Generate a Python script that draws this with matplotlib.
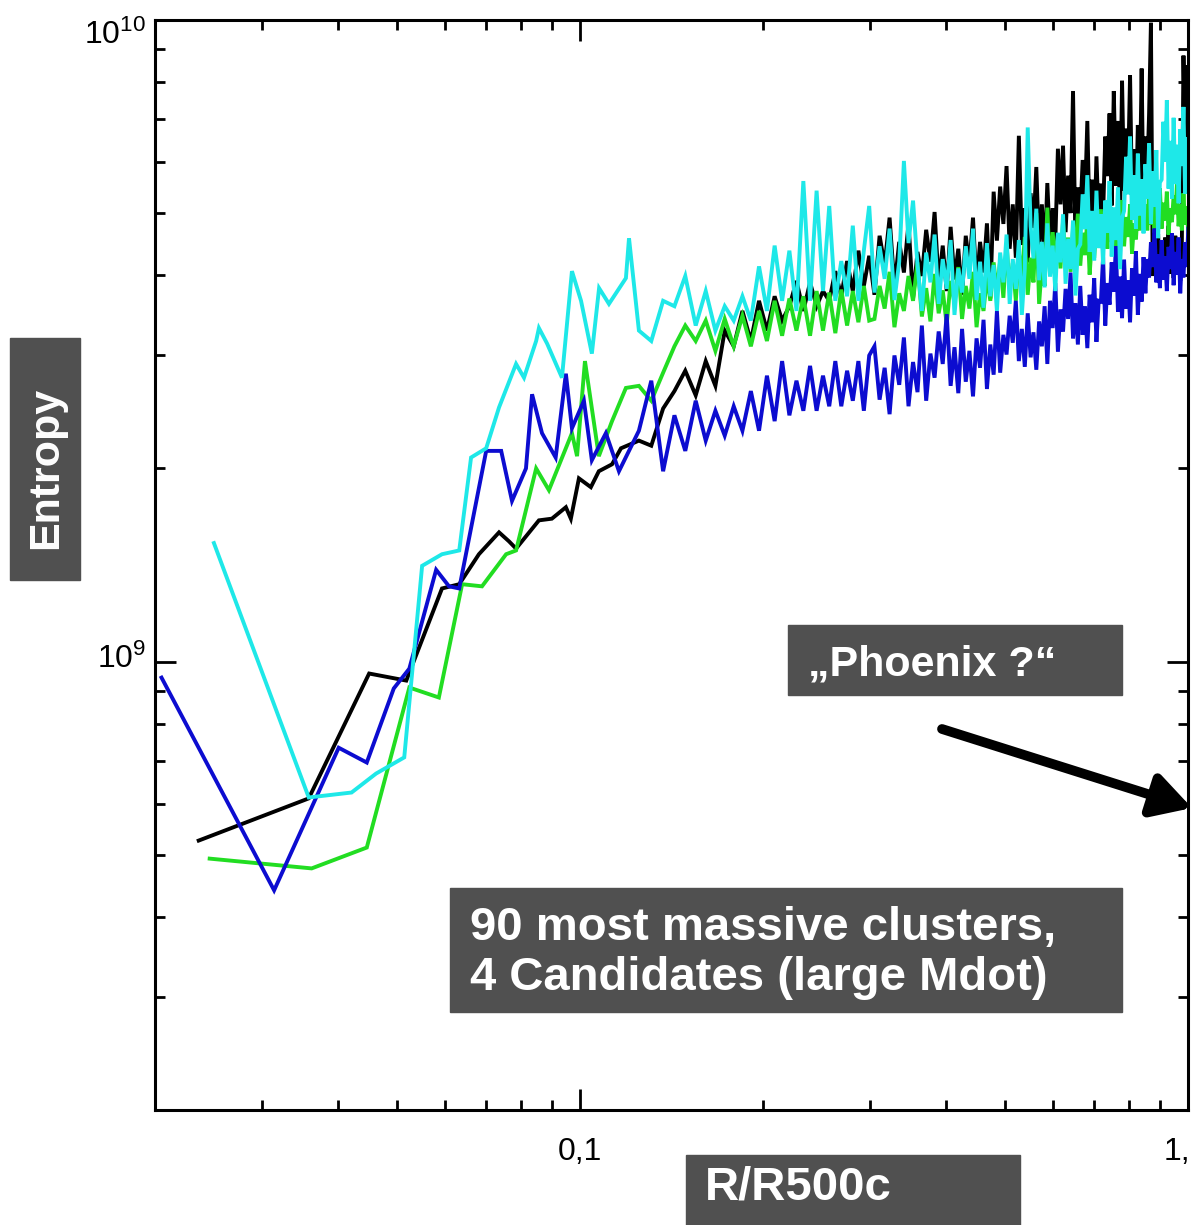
import numpy as np
import matplotlib.pyplot as plt
from matplotlib.patches import Rectangle, FancyArrowPatch, ArrowStyle
from matplotlib.ticker import LogLocator, NullFormatter

plt.rcParams['font.family'] = ['Liberation Sans', 'DejaVu Sans']
plt.rcParams['mathtext.fontset'] = 'custom'
plt.rcParams['mathtext.rm'] = 'Liberation Sans'

#%% data: entropy profiles (units of 1e9) vs R/R500c
# inner part: sparse points
black_r_in = [0.0236, 0.0358, 0.0450, 0.0518, 0.0593, 0.0633, 0.0682, 0.0736, 0.0764, 0.0785,
              0.0856, 0.0899, 0.0948, 0.0966, 0.0996, 0.1042, 0.1074, 0.1129, 0.1168]
black_s_in = [0.526, 0.612, 0.958, 0.934, 1.30, 1.32, 1.47, 1.59, 1.54, 1.50,
              1.66, 1.67, 1.74, 1.67, 1.93, 1.87, 1.98, 2.03, 2.15]

blue_r_in = [0.0205, 0.0314, 0.0401, 0.0446, 0.0494, 0.0524, 0.0580, 0.0609, 0.0633, 0.0701, 0.0742,
             0.0773, 0.0815, 0.0834, 0.0866, 0.0912, 0.0948, 0.0970, 0.1015, 0.1046, 0.1103, 0.1159]
blue_s_in = [0.944, 0.440, 0.734, 0.696, 0.908, 0.975, 1.39, 1.31, 1.30, 2.13, 2.13,
             1.78, 2.00, 2.61, 2.27, 2.08, 2.81, 2.31, 2.55, 2.06, 2.27, 1.98]

green_r_in = [0.0246, 0.0362, 0.0446, 0.0524, 0.0586, 0.0640, 0.0690, 0.0756, 0.0785,
              0.0847, 0.0889, 0.0970, 0.0989, 0.1019, 0.1074, 0.1129, 0.1190]
green_s_in = [0.493, 0.476, 0.513, 0.911, 0.879, 1.32, 1.31, 1.47, 1.49,
              2.00, 1.85, 2.27, 2.09, 2.94, 2.09, 2.37, 2.67]

cyan_r_in = [0.0250, 0.0358, 0.0421, 0.0462, 0.0514, 0.0550, 0.0593, 0.0633, 0.0662, 0.0701, 0.0736, 0.0785,
             0.0809, 0.0847, 0.0856, 0.0883, 0.0934, 0.0970, 0.1004, 0.1046, 0.1075, 0.1116, 0.1190, 0.1204]
cyan_s_in = [1.53, 0.614, 0.625, 0.669, 0.709, 1.41, 1.47, 1.49, 2.08, 2.15, 2.49, 2.91,
             2.77, 3.16, 3.31, 3.13, 2.77, 4.06, 3.65, 3.02, 3.82, 3.61, 3.96, 4.57]

# outer part: bins from R=0.125 in steps of 0.006
tail_r0 = 0.125
tail_dr = 0.006

black_tail = [2.21, 2.17, 2.48, 2.64, 2.84, 2.60, 2.94, 2.69, 3.28, 3.10,
              3.52, 3.16, 3.65, 3.28, 3.71, 3.40, 3.58, 3.92, 3.52, 3.90,
              3.58, 3.78, 3.65, 4.06, 3.71, 4.21, 3.78, 4.37, 3.85, 4.29,
              3.73, 4.61, 4.15, 4.92, 3.84, 4.51, 4.04, 4.82, 3.68, 4.35,
              3.99, 4.71, 4.20, 5.02, 3.89, 4.45, 3.78, 4.76, 3.94, 4.40,
              3.73, 4.61, 4.15, 4.92, 3.84, 4.51, 4.04, 4.82, 3.68, 5.40,
              4.53, 5.50, 4.81, 5.92, 4.40, 5.16, 4.26, 6.60, 4.46, 5.09,
              4.19, 5.37, 4.74, 5.90, 4.40, 5.16, 4.26, 5.57, 4.46, 5.09,
              4.51, 6.30, 5.16, 6.37, 4.67, 5.72, 5.00, 7.75, 4.43, 5.48,
              4.93, 6.05, 5.24, 6.96, 4.75, 5.64, 4.59, 6.13, 4.83, 5.56,
              4.94, 6.58, 5.71, 7.15, 5.14, 7.75, 5.52, 6.96, 4.85, 8.04,
              5.42, 6.77, 5.81, 8.20, 5.23, 6.29, 5.04, 6.86, 5.33, 8.40,
              4.94, 6.58, 5.71, 7.15, 9.90, 3.99, 4.44, 4.13, 4.64, 3.89,
              4.33, 4.09, 4.58, 4.23, 4.78, 4.02, 4.40, 3.96, 4.61, 4.06,
              4.37, 3.92, 4.51, 8.80, 6.50, 8.50, 7.00]

blue_tail = [2.29, 2.74, 1.98, 2.42, 2.13, 2.55, 2.21, 2.46, 2.25, 2.50,
             2.29, 2.64, 2.29, 2.79, 2.37, 2.94, 2.42, 2.74, 2.46, 2.89,
             2.46, 2.79, 2.50, 2.94, 2.50, 2.84, 2.55, 2.94, 2.46, 3.00,
             3.10, 2.56, 2.87, 2.43, 3.00, 2.70, 3.20, 2.50, 2.93, 2.63,
             3.34, 2.55, 3.02, 2.77, 3.27, 2.91, 3.48, 2.69, 3.09, 2.62,
             3.30, 2.73, 3.05, 2.59, 3.19, 2.87, 3.41, 2.66, 3.12, 2.80,
             3.52, 2.82, 3.23, 3.01, 3.46, 3.14, 3.65, 2.94, 3.30, 2.88,
             3.49, 2.98, 3.26, 2.85, 3.39, 3.10, 3.58, 2.91, 3.65, 3.31,
             3.89, 3.04, 3.54, 3.27, 3.81, 3.42, 4.04, 3.19, 3.62, 3.12,
             3.85, 3.23, 3.58, 3.08, 3.73, 3.38, 3.96, 3.15, 3.65, 3.64,
             4.27, 3.34, 3.89, 3.60, 4.19, 3.77, 4.44, 3.51, 3.98, 3.43,
             4.23, 3.55, 3.93, 3.38, 4.10, 3.72, 4.36, 3.47, 4.02, 3.64,
             4.27, 3.75, 4.24, 3.97, 4.50, 4.12, 4.73, 3.90, 4.31, 3.82,
             4.54, 3.94, 4.28, 3.78, 4.43, 4.09, 4.65, 3.86, 4.35, 4.01,
             4.58, 3.75, 4.24, 3.97, 4.50, 4.12, 4.73]

green_tail = [2.69, 2.55, 2.82, 3.10, 3.34, 3.16, 3.40, 3.05, 3.42, 3.10,
              3.46, 3.10, 3.52, 3.16, 3.65, 3.22, 3.68, 3.28, 3.71, 3.22,
              3.78, 3.28, 3.76, 3.25, 3.80, 3.34, 3.78, 3.38, 3.85, 3.40,
              3.42, 3.85, 3.55, 4.05, 3.32, 3.75, 3.52, 3.99, 3.65, 4.19,
              3.45, 3.82, 3.39, 4.02, 3.49, 3.79, 3.35, 3.92, 3.62, 4.12,
              3.42, 3.85, 3.55, 4.05, 3.32, 3.75, 3.52, 3.99, 3.65, 4.19,
              3.77, 4.22, 3.69, 4.47, 3.81, 4.18, 3.65, 4.35, 3.98, 4.59,
              3.73, 4.26, 3.90, 5.00, 3.61, 4.14, 3.85, 5.10, 4.02, 4.67,
              4.18, 4.62, 4.10, 4.86, 4.22, 4.58, 4.05, 4.74, 4.38, 4.99,
              4.14, 4.66, 4.30, 4.91, 4.01, 4.54, 4.26, 4.82, 4.42, 5.07,
              4.47, 4.89, 4.40, 5.12, 4.51, 4.86, 4.36, 5.01, 4.66, 5.24,
              4.44, 4.93, 4.59, 5.16, 4.32, 4.82, 4.55, 5.09, 4.70, 5.32,
              4.77, 5.16, 4.70, 5.37, 4.80, 5.12, 4.66, 5.26, 4.94, 5.47,
              4.73, 5.19, 4.87, 5.40, 4.63, 5.09, 4.84, 5.33, 4.98, 5.54,
              4.77, 5.16, 4.70, 5.37, 4.80, 5.12, 4.66]

cyan_tail = [3.28, 3.16, 3.65, 3.58, 3.99, 3.34, 3.78, 3.28, 3.58, 3.40,
             3.71, 3.40, 4.13, 3.52, 4.45, 3.65, 4.37, 3.52, 5.61, 3.65,
             5.42, 3.78, 5.13, 3.65, 4.21, 3.71, 4.78, 3.65, 4.37, 5.13,
             3.76, 4.44, 3.95, 4.73, 3.66, 4.20, 6.03, 4.49, 5.23, 4.15,
             3.52, 4.34, 3.90, 4.63, 3.61, 4.24, 3.81, 4.54, 3.47, 4.10,
             3.76, 4.44, 3.95, 4.73, 3.66, 4.20, 3.56, 4.49, 3.71, 4.15,
             3.52, 4.34, 3.90, 4.63, 3.61, 4.24, 3.81, 4.54, 3.47, 4.10,
             6.80, 4.77, 4.25, 5.08, 3.93, 4.51, 3.83, 4.82, 3.98, 4.45,
             3.78, 4.66, 4.19, 4.98, 3.88, 4.56, 4.09, 4.87, 3.72, 4.40,
             4.47, 5.35, 4.72, 5.73, 4.35, 5.04, 4.22, 5.42, 4.41, 4.98,
             4.16, 5.23, 4.66, 5.61, 4.28, 5.10, 4.54, 5.48, 4.09, 4.91,
             5.04, 6.12, 5.35, 6.58, 4.88, 5.73, 4.73, 6.19, 4.96, 5.65,
             4.65, 5.96, 5.27, 6.42, 4.81, 5.81, 5.12, 6.27, 4.57, 5.58,
             5.64, 6.94, 6.01, 7.50, 5.46, 6.48, 5.27, 7.04, 5.55, 6.39,
             5.18, 6.76, 5.92, 7.32, 5.36, 6.57, 5.74]

series = [
    (black_r_in, black_s_in, black_tail, 'black'),
    (green_r_in, green_s_in, green_tail, '#22dd22'),
    (blue_r_in, blue_s_in, blue_tail, '#0c0cd0'),
    (cyan_r_in, cyan_s_in, cyan_tail, '#1ee8e8'),
]

#%% figure
W, H = 1192, 1225
fig = plt.figure(figsize=(W/100, H/100), dpi=100)
ax = fig.add_axes([155/W, 1-1110/H, (1188-155)/W, (1110-20)/H])

for r_in, s_in, tail, col in series:
    r = np.concatenate([r_in, tail_r0 + tail_dr*np.arange(len(tail))])
    s = np.concatenate([s_in, tail])*1e9
    ax.plot(r, s, color=col, lw=2.8, solid_joinstyle='miter')

ax.set_xscale('log')
ax.set_yscale('log')
ax.set_xlim(0.02, 1.0)
ax.set_ylim(2e8, 1e10)

for a in (ax.xaxis, ax.yaxis):
    a.set_major_locator(LogLocator(base=10))
    a.set_minor_locator(LogLocator(base=10, subs=np.arange(2, 10)))
    a.set_major_formatter(NullFormatter())
    a.set_minor_formatter(NullFormatter())
ax.tick_params(which='both', direction='in', top=True, right=True, width=2, color='black')
ax.tick_params(which='major', length=15)
ax.tick_params(which='minor', length=7.5)
for sp in ax.spines.values():
    sp.set_linewidth(2.2)

# tick labels, IDL style
lab = dict(fontsize=23, color='black')
ax.annotate(r'$\mathregular{10^{10}}$', xy=(0, 1e10), xycoords=('axes fraction', 'data'),
            xytext=(-9, -15), textcoords='offset pixels', ha='right', va='center', **lab)
ax.annotate(r'$\mathregular{10^{9}}$', xy=(0, 1e9), xycoords=('axes fraction', 'data'),
            xytext=(-9, 2), textcoords='offset pixels', ha='right', va='center', **lab)
ax.annotate('0,1', xy=(0.1, 0), xycoords=('data', 'axes fraction'),
            xytext=(0, -42), textcoords='offset pixels', ha='center', va='center', **lab)
ax.annotate('1,', xy=(1.0, 0), xycoords=('data', 'axes fraction'),
            xytext=(2, -42), textcoords='offset pixels', ha='right', va='center',
            annotation_clip=False, **lab)

#%% grey label boxes
def box(x0, y0, x1, y1):
    fig.add_artist(Rectangle((x0/W, 1-y1/H), (x1-x0)/W, (y1-y0)/H,
                             transform=fig.transFigure, color='#505050', zorder=5))

def btext(x, y, s, size, **kw):
    fig.text(x/W, 1-y/H, s, color='white', fontsize=size, fontweight='bold', zorder=6, **kw)

box(10, 338, 80, 580)
btext(46, 468, 'Entropy', 31, rotation=90, ha='center', va='center')

box(686, 1155, 1020, 1240)
btext(705, 1200, 'R/R500c', 34, ha='left', va='baseline')

box(788, 625, 1122, 695)
btext(808, 676, '\u201ePhoenix ?\u201c', 31, ha='left', va='baseline')

box(450, 888, 1122, 1012)
btext(470, 940, '90 most massive clusters,', 34, ha='left', va='baseline')
btext(470, 990, '4 Candidates (large Mdot)', 34, ha='left', va='baseline')

arr = FancyArrowPatch((942/W, 1-729/H), (1192/W, 1-808/H), transform=fig.transFigure,
                      arrowstyle=ArrowStyle('-|>', head_length=1.15, head_width=0.65),
                      mutation_scale=20, lw=7, color='black', shrinkA=0, shrinkB=0, zorder=7)
fig.add_artist(arr)

fig.savefig('out.png', dpi=100)
